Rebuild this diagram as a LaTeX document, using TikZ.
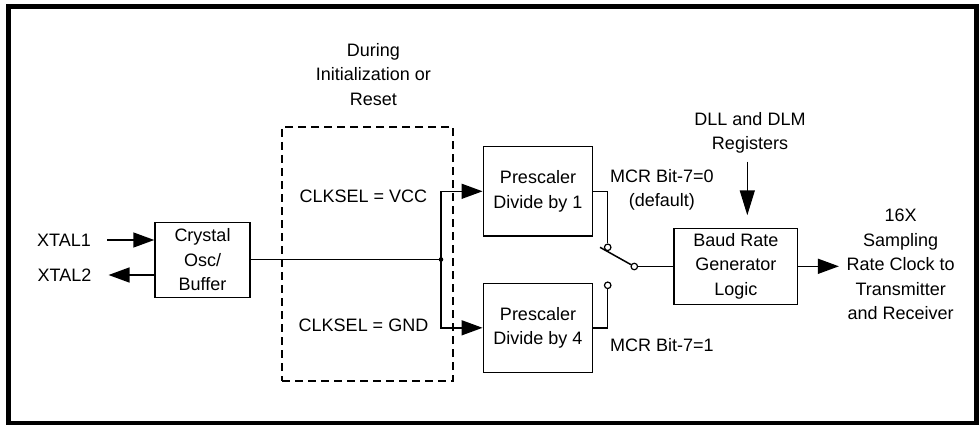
\documentclass[tikz,border=0pt]{standalone}
\usepackage{fontspec}
\setmainfont{Liberation Sans}
\usetikzlibrary{arrows.meta}
\begin{document}
\begin{tikzpicture}[x=1pt,y=-1pt,
  txt/.style={font=\fontsize{18pt}{24.5pt}\selectfont, inner sep=0pt, align=center},
  blk/.style={txt, draw, line width=1.5pt},
  dashbox/.style={draw, line width=1.3pt, dash pattern=on 8pt off 5pt, inner sep=0pt},
  wire/.style={line width=1.5pt},
  arr/.style={line width=1.5pt, -{Triangle[length=21pt,width=15pt]}},
  contact/.style={circle, draw, fill=white, line width=1.2pt, minimum size=6.5pt, inner sep=0pt}]
\useasboundingbox (0,0) rectangle (979,425);
\draw[line width=5pt] (8,7) rectangle (976,423);

\node[txt] (xtal1) at (64,240) {XTAL1};
\node[txt] (xtal2) at (64.5,275) {XTAL2};
\node[blk, minimum width=95pt, minimum height=75pt] (osc) at (202.5,260) {Crystal\\Osc/\\Buffer};

\node[dashbox, minimum width=171pt, minimum height=254pt] (init) at (367.5,254) {};
\node[txt] (during) at (373.3,74.2) {During\\Initialization or\\Reset};
\node[txt] (vcc) at (363.3,196.7) {CLKSEL = VCC};
\node[txt] (gnd) at (363.5,325) {CLKSEL = GND};
\coordinate (J) at (441,259.5);

\node[blk, minimum width=109.4pt, minimum height=89.3pt] (p1) at (538,191.3) {Prescaler\\Divide by 1};
\node[blk, minimum width=109.4pt, minimum height=89pt] (p4) at (538,327.8) {Prescaler\\Divide by 4};

\node[contact] (c1) at (607.7,247.3) {};
\node[contact] (c2) at (607.7,285.3) {};
\node[contact] (pv) at (634.3,266.5) {};
\coordinate (armend) at (600,247.3);

\node[blk, minimum width=123.7pt, minimum height=76pt] (baud) at (735.8,266.3) {Baud Rate\\Generator\\Logic};
\node[txt] (dll) at (750,132.9) {DLL and DLM\\Registers};
\node[txt] (mcr0) at (661.8,189.8) {MCR Bit-7=0\\(default)};
\node[txt] (mcr1) at (661.8,345) {MCR Bit-7=1};
\node[txt] (out) at (900.7,264.5) {16X\\Sampling\\Rate Clock to\\Transmitter\\and Receiver};

\draw[arr] ([xshift=16pt]xtal1.east) -- (osc.west |- xtal1);
\draw[arr] (osc.west |- xtal2) -- ([xshift=17pt]xtal2.east);
\draw[wire] (osc.east |- J) -- (J);
\fill (J) circle (2.3pt);
\draw[arr] (J) |- (p1.west);
\draw[arr] (J) |- (p4.west);
\draw[wire] (p1.east) -| (c1.north);
\draw[wire] (p4.east) -| (c2.south);
\draw[wire] (pv) -- (armend);
\draw[wire] (pv.east) -- (baud.west |- pv);
\draw[line width=1.5pt, -{Triangle[length=25pt,width=15pt]}] ([xshift=-2.7pt,yshift=-8pt]dll.south) -- ([xshift=11.5pt,yshift=12.3pt]baud.north);
\draw[arr] (baud.east) -- ++(40.5,0);
\end{tikzpicture}
\end{document}
